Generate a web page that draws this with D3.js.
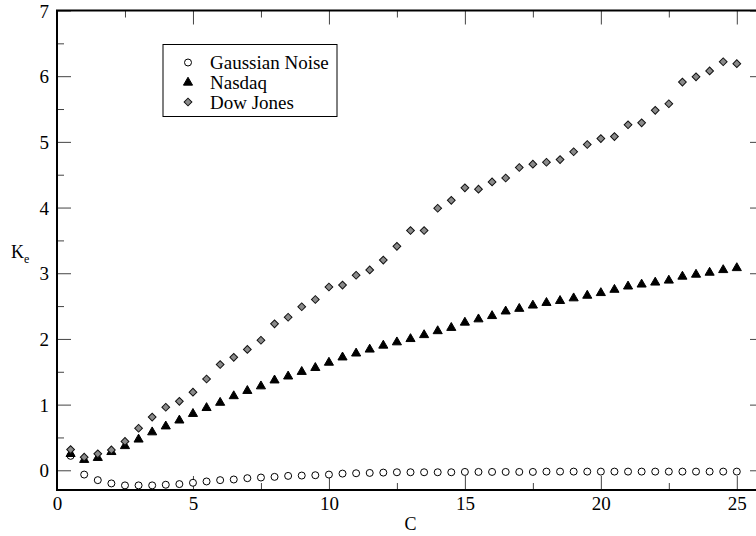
<!DOCTYPE html>
<html>
<head>
<meta charset="utf-8">
<script src="https://cdn.jsdelivr.net/npm/d3@7"></script>
<style>
  html, body { margin: 0; padding: 0; background: #fff; }
  svg { display: block; }
  text { font-family: "Liberation Serif", "Times New Roman", serif; fill: #000; }
</style>
</head>
<body>
<svg id="chart" width="756" height="536"></svg>
<script>
// Cutoff values C
const cValues = [0.5, 1.0, 1.5, 2.0, 2.5, 3.0, 3.5, 4.0, 4.5, 5.0,
                 5.5, 6.0, 6.5, 7.0, 7.5, 8.0, 8.5, 9.0, 9.5, 10.0,
                 10.5, 11.0, 11.5, 12.0, 12.5, 13.0, 13.5, 14.0, 14.5, 15.0,
                 15.5, 16.0, 16.5, 17.0, 17.5, 18.0, 18.5, 19.0, 19.5, 20.0,
                 20.5, 21.0, 21.5, 22.0, 22.5, 23.0, 23.5, 24.0, 24.5, 25.0];

// K_e for each series
const gaussianNoise = [0.22, -0.065, -0.15, -0.20, -0.23, -0.23, -0.23, -0.22, -0.21, -0.19,
                       -0.17, -0.15, -0.14, -0.12, -0.11, -0.10, -0.085, -0.08, -0.075, -0.065,
                       -0.05, -0.045, -0.04, -0.035, -0.03, -0.03, -0.03, -0.03, -0.03, -0.025,
                       -0.025, -0.025, -0.025, -0.025, -0.025, -0.02, -0.02, -0.02, -0.02, -0.02,
                       -0.02, -0.02, -0.02, -0.02, -0.02, -0.02, -0.02, -0.02, -0.02, -0.02];
const nasdaq = [0.25, 0.16, 0.19, 0.28, 0.37, 0.47, 0.58, 0.67, 0.76, 0.86,
                0.95, 1.03, 1.13, 1.21, 1.28, 1.37, 1.43, 1.50, 1.56, 1.64,
                1.72, 1.78, 1.84, 1.90, 1.95, 2.00, 2.06, 2.12, 2.17, 2.25,
                2.30, 2.35, 2.42, 2.46, 2.51, 2.55, 2.58, 2.62, 2.66, 2.70,
                2.75, 2.80, 2.83, 2.86, 2.89, 2.95, 2.98, 3.01, 3.05, 3.08];
const dowJones = [0.315, 0.20, 0.25, 0.31, 0.44, 0.64, 0.81, 0.96, 1.05, 1.19,
                  1.39, 1.61, 1.72, 1.84, 1.98, 2.23, 2.33, 2.49, 2.60, 2.79,
                  2.82, 2.97, 3.05, 3.20, 3.41, 3.65, 3.65, 3.99, 4.11, 4.30,
                  4.28, 4.39, 4.45, 4.61, 4.66, 4.69, 4.73, 4.85, 4.96, 5.05,
                  5.08, 5.26, 5.29, 5.48, 5.58, 5.91, 5.99, 6.08, 6.22, 6.19];

const seriesNames = ["Gaussian Noise", "Nasdaq", "Dow Jones"];

// Axis ticks
const xMajorTicks = [0, 5, 10, 15, 20, 25];
const xMinorTicks = [2.5, 7.5, 12.5, 17.5, 22.5];
const yMajorTicks = [0, 1, 2, 3, 4, 5, 6, 7];
const yMinorTicks = [0.5, 1.5, 2.5, 3.5, 4.5, 5.5, 6.5];

const svg = d3.select("#chart");
const plotLeft = 57, plotRight = 764, plotTop = 10.5, plotBottom = 490;

const x = d3.scaleLinear().domain([0, 26]).range([plotLeft, plotRight]);
const y = d3.scaleLinear().domain([-0.3, 7]).range([plotBottom, plotTop]);

const tickColor = "#444";

function styleTicks(g) {
  g.select(".domain").remove();
  g.selectAll(".tick line").attr("stroke", tickColor).attr("stroke-width", 1);
}

// Bottom axis: labelled majors, inward ticks
svg.append("g").attr("transform", `translate(0,${plotBottom})`)
  .call(d3.axisBottom(x).tickValues(xMajorTicks).tickSize(-14).tickPadding(20))
  .call(styleTicks)
  .call(g => g.selectAll(".tick text").attr("font-size", 19).attr("dy", "0"));
svg.append("g").attr("transform", `translate(0,${plotBottom})`)
  .call(d3.axisBottom(x).tickValues(xMinorTicks).tickSize(-7).tickFormat(""))
  .call(styleTicks);

// Top axis: ticks only
svg.append("g").attr("transform", `translate(0,${plotTop})`)
  .call(d3.axisTop(x).tickValues(xMajorTicks).tickSize(-14).tickFormat(""))
  .call(styleTicks);
svg.append("g").attr("transform", `translate(0,${plotTop})`)
  .call(d3.axisTop(x).tickValues(xMinorTicks).tickSize(-7).tickFormat(""))
  .call(styleTicks);

// Left axis
svg.append("g").attr("transform", `translate(${plotLeft},0)`)
  .call(d3.axisLeft(y).tickValues(yMajorTicks).tickSize(-14).tickPadding(8).tickFormat(d3.format("d")))
  .call(styleTicks)
  .call(g => g.selectAll(".tick text").attr("font-size", 19).attr("dy", "0.35em"));
svg.append("g").attr("transform", `translate(${plotLeft},0)`)
  .call(d3.axisLeft(y).tickValues(yMinorTicks).tickSize(-7).tickFormat(""))
  .call(styleTicks);

// Right axis
svg.append("g").attr("transform", `translate(${plotRight},0)`)
  .call(d3.axisRight(y).tickValues(yMajorTicks).tickSize(-14).tickFormat(""))
  .call(styleTicks);
svg.append("g").attr("transform", `translate(${plotRight},0)`)
  .call(d3.axisRight(y).tickValues(yMinorTicks).tickSize(-7).tickFormat(""))
  .call(styleTicks);

// Frame
svg.append("rect")
  .attr("x", plotLeft).attr("y", plotTop)
  .attr("width", plotRight - plotLeft).attr("height", plotBottom - plotTop)
  .attr("fill", "none").attr("stroke", "#000").attr("stroke-width", 2);

// Axis titles
svg.append("text")
  .attr("x", (plotLeft + plotRight) / 2).attr("y", 530)
  .attr("text-anchor", "middle").attr("font-size", 18)
  .text("C");
const yTitle = svg.append("text")
  .attr("x", 11).attr("y", 258)
  .attr("font-size", 18);
yTitle.append("tspan").text("K");
yTitle.append("tspan").attr("font-size", 12).attr("dy", 5).text("e");

// Marker shapes
const circleSym = d3.symbol().type(d3.symbolCircle).size(Math.PI * 3.5 * 3.5);
const triangleSym = d3.symbol().type(d3.symbolTriangle).size(36);
const diamondSym = d3.symbol().type(d3.symbolSquare).size(30);

const markers = [
  { values: gaussianNoise, path: circleSym(), rotate: 0, fill: "#fff", stroke: "#000" },
  { values: nasdaq, path: triangleSym(), rotate: 0, fill: "#000", stroke: "#000" },
  { values: dowJones, path: diamondSym(), rotate: 45, fill: "#8a8a8a", stroke: "#111" }
];

markers.forEach(m => {
  svg.append("g").selectAll("path")
    .data(cValues.map((c, i) => [c, m.values[i]]))
    .join("path")
    .attr("d", m.path)
    .attr("transform", d => `translate(${x(d[0])},${y(d[1])}) rotate(${m.rotate})`)
    .attr("fill", m.fill)
    .attr("stroke", m.stroke)
    .attr("stroke-width", 1);
});

// Legend
const legend = svg.append("g");
legend.append("rect")
  .attr("x", 163).attr("y", 44.5).attr("width", 174).attr("height", 72)
  .attr("fill", "#fff").attr("stroke", "#000").attr("stroke-width", 1);
const legendRows = [62.5, 82.5, 102];
markers.forEach((m, i) => {
  legend.append("path")
    .attr("d", m.path)
    .attr("transform", `translate(188,${legendRows[i]}) rotate(${m.rotate})`)
    .attr("fill", m.fill).attr("stroke", m.stroke).attr("stroke-width", 1);
  legend.append("text")
    .attr("x", 210).attr("y", legendRows[i]).attr("dy", "0.35em")
    .attr("font-size", 19)
    .text(seriesNames[i]);
});
</script>
</body>
</html>
